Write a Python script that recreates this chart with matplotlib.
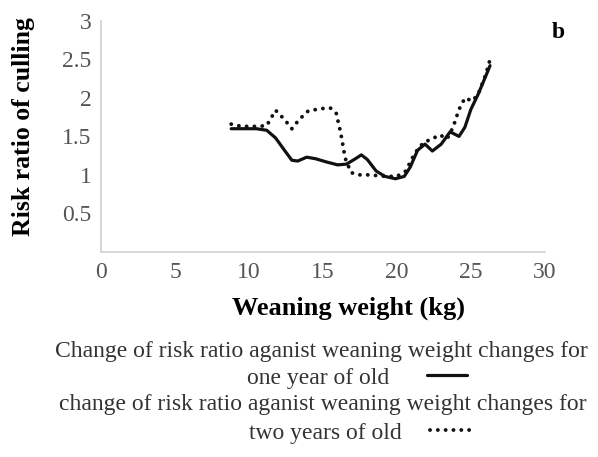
import matplotlib
matplotlib.use("Agg")
import matplotlib.pyplot as plt

plt.rcParams['font.family'] = ['Liberation Serif', 'DejaVu Serif']

# weaning weight (kg) and risk ratio
weight_one = [8.8, 9.5, 10.5, 11.2, 11.8, 12.4, 12.9, 13.3, 13.9, 14.5, 15.2, 16.0,
              16.6, 17.2, 17.6, 18.0, 18.6, 19.2, 19.9, 20.5, 20.9, 21.4, 21.9, 22.4,
              23.0, 23.6, 24.2, 24.6, 25.0, 25.5, 26.0, 26.3]
risk_one = [1.60, 1.60, 1.60, 1.58, 1.48, 1.32, 1.19, 1.18, 1.23, 1.21, 1.17, 1.13,
            1.14, 1.21, 1.26, 1.20, 1.05, 0.98, 0.95, 0.98, 1.10, 1.32, 1.40, 1.31,
            1.40, 1.56, 1.50, 1.62, 1.85, 2.05, 2.28, 2.42]

weight_two = [8.8, 9.5, 10.5, 11.2, 11.8, 12.4, 12.9, 13.4, 14.0, 14.8, 15.5, 15.9,
              16.2, 16.5, 16.9, 17.4, 18.1, 18.7, 19.3, 20.0, 20.6, 21.2, 21.8, 22.4,
              22.9, 23.4, 23.8, 24.2, 24.6, 25.1, 25.5, 26.0, 26.3]
risk_two = [1.66, 1.63, 1.63, 1.64, 1.84, 1.72, 1.60, 1.72, 1.83, 1.86, 1.87, 1.80,
            1.55, 1.22, 1.03, 1.00, 1.00, 0.99, 0.98, 0.98, 1.05, 1.28, 1.42, 1.47,
            1.52, 1.47, 1.62, 1.85, 2.00, 1.96, 2.05, 2.30, 2.50]

x_ticks = [0, 5, 10, 15, 20, 25, 30]
y_ticks = [0.5, 1, 1.5, 2, 2.5, 3]

label_one = "one year of old"
label_two = "two years of old"
first_one = "Change of risk ratio aganist weaning weight changes for"
first_two = "change of risk ratio aganist weaning weight changes for"

fig = plt.figure(figsize=(5.98, 4.57), dpi=100)
ax = fig.add_axes([0.169, 0.449, 0.742, 0.505])

l1, = ax.plot(weight_one, risk_one, color='#111111', lw=2.3,
              solid_joinstyle='round', solid_capstyle='round')
l2, = ax.plot(weight_two, risk_two, color='#111111', lw=2.8,
              linestyle=(0, (0.01, 2.0)), dash_capstyle='round')

ax.set_xlim(0, 30)
ax.set_ylim(0, 3)
ax.set_xticks(x_ticks)
ax.set_yticks(y_ticks)
ax.set_yticklabels(['0.5', '1', '1.5', '2', '2.5', '3'])
ax.tick_params(length=0, labelsize=17, colors='#555555', pad=7)
for s in ['top', 'right']:
    ax.spines[s].set_visible(False)
for s in ['left', 'bottom']:
    ax.spines[s].set_color('#d0d0d0')
    ax.spines[s].set_linewidth(1.2)

fig.text(0.039, 0.722, "Risk ratio of culling", fontsize=18.5, fontweight='bold',
         rotation=90, ha='center', va='center')
fig.text(0.582, 0.326, "Weaning weight (kg)", fontsize=19, fontweight='bold',
         ha='center', va='center')
fig.text(0.933, 0.928, "b", fontsize=17, fontweight='bold', ha='center', va='center')

# legend, laid out like the Excel one: wrapped text, sample after it
fig.text(0.537, 0.230, first_one, fontsize=17, color='#333333', ha='center', va='center')
fig.text(0.539, 0.114, first_two, fontsize=17, color='#333333', ha='center', va='center')
fig.legend([l1], [label_one], loc='center left', bbox_to_anchor=(0.413, 0.173),
           frameon=False, markerfirst=False, fontsize=17, labelcolor='#333333',
           handlelength=1.7, handletextpad=1.6, borderpad=0, borderaxespad=0)
fig.legend([l2], [label_two], loc='center left', bbox_to_anchor=(0.416, 0.053),
           frameon=False, markerfirst=False, fontsize=17, labelcolor='#333333',
           handlelength=1.85, handletextpad=1.2, borderpad=0, borderaxespad=0)

fig.savefig("out.png", dpi=100)
